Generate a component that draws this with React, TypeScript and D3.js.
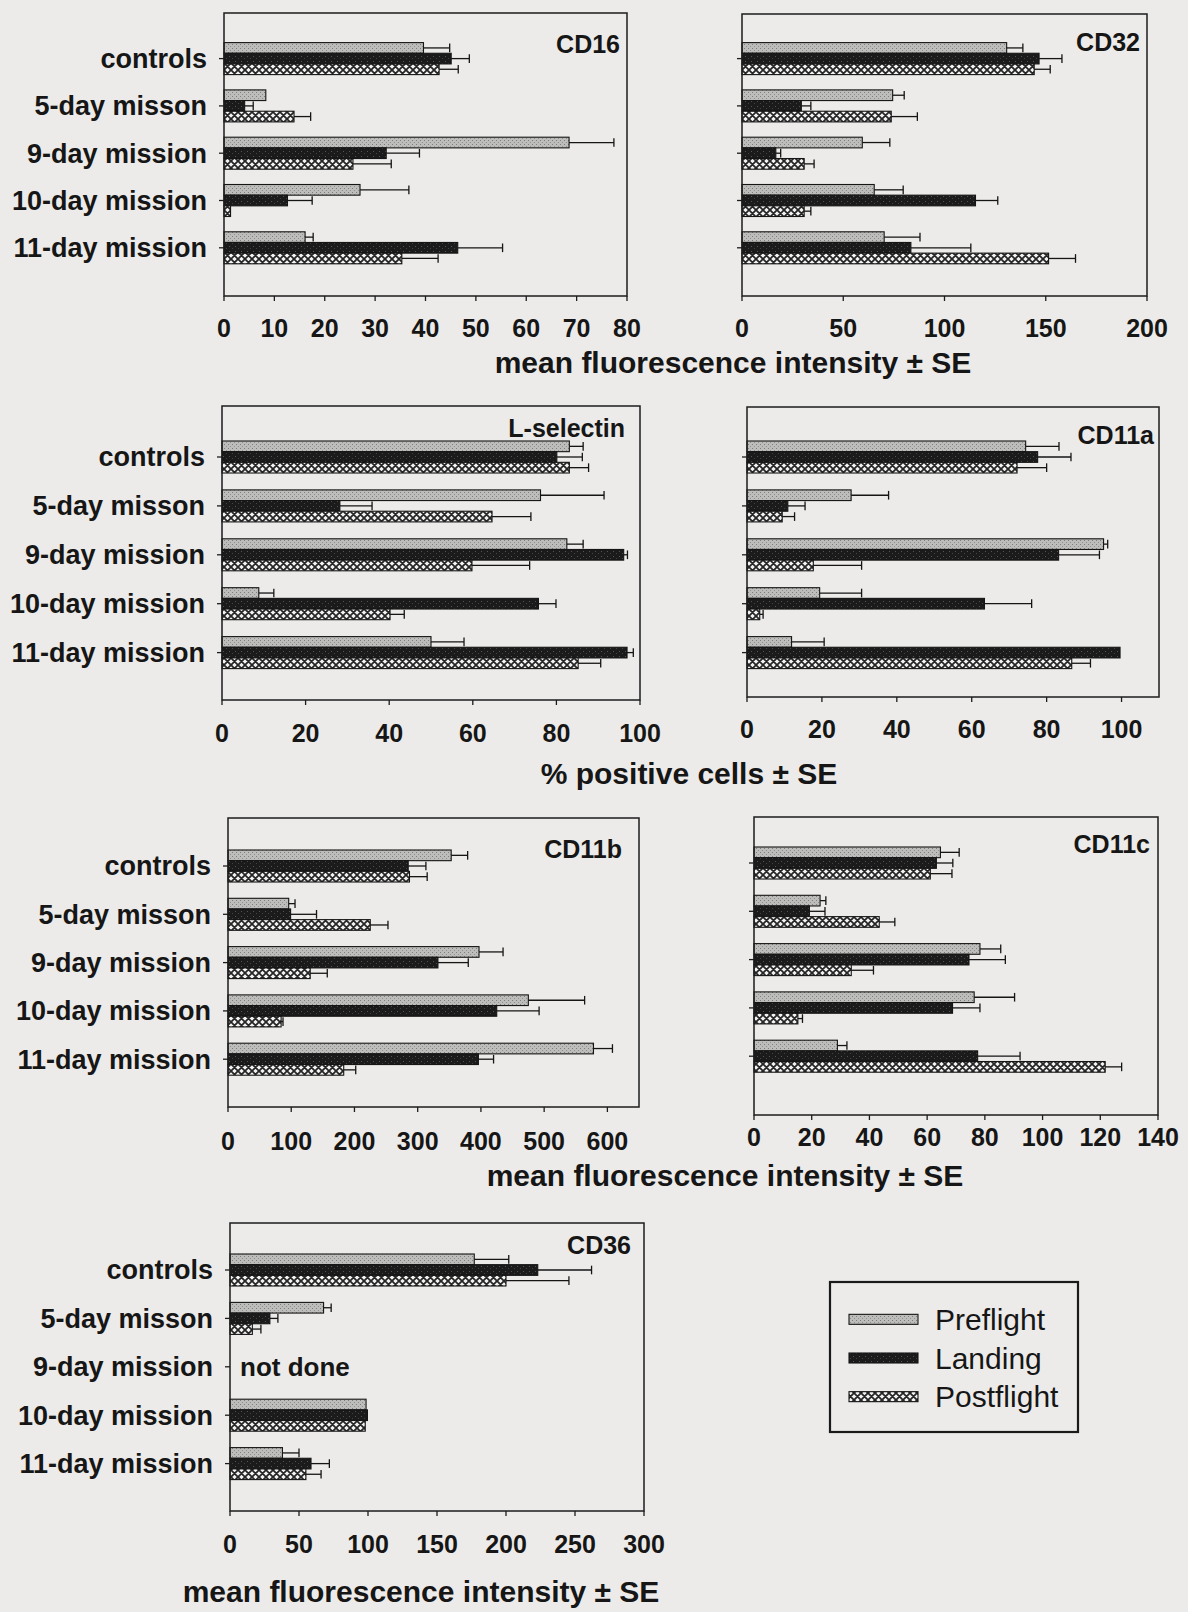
import { scaleLinear, scaleBand } from "d3";

const categories = ["controls", "5-day misson", "9-day mission", "10-day mission", "11-day mission"];
const seriesNames = ["Preflight", "Landing", "Postflight"];

// values: rows = Preflight, Landing, Postflight
const cd16Mean = [
  [39.6, 8.3, 68.5, 27.0, 16.1],
  [45.1, 4.1, 32.2, 12.6, 46.4],
  [42.7, 13.9, 25.6, 1.3, 35.3],
];
const cd16Err = [
  [5.2, 0, 8.9, 9.7, 1.6],
  [3.6, 1.7, 6.6, 4.9, 8.9],
  [3.8, 3.3, 7.6, 0, 7.2],
];
const cd32Mean = [
  [130.7, 74.4, 59.4, 65.3, 70.2],
  [146.7, 29.3, 16.7, 115.3, 83.4],
  [144.3, 73.7, 30.7, 30.7, 151.4],
];
const cd32Err = [
  [8.0, 5.7, 13.6, 14.3, 17.7],
  [11.3, 4.7, 2.4, 11.0, 29.6],
  [7.9, 12.9, 4.9, 3.3, 13.3],
];
const lselMean = [
  [83.1, 76.2, 82.5, 8.8, 50.0],
  [80.1, 28.2, 96.1, 75.7, 96.9],
  [83.1, 64.6, 59.8, 40.2, 85.2],
];
const lselErr = [
  [3.3, 15.2, 3.9, 3.6, 7.9],
  [6.1, 7.7, 0.9, 4.2, 1.5],
  [4.6, 9.3, 13.8, 3.4, 5.4],
];
const cd11aMean = [
  [74.4, 27.8, 95.2, 19.4, 11.9],
  [77.6, 10.9, 83.2, 63.4, 99.6],
  [72.1, 9.4, 17.7, 3.4, 86.7],
];
const cd11aErr = [
  [8.9, 10.0, 1.1, 11.2, 8.7],
  [8.9, 4.6, 10.9, 12.6, 0],
  [7.9, 3.3, 12.9, 0.9, 5.0],
];
const cd11bMean = [
  [353, 96, 397, 475, 578],
  [285, 99, 332, 425, 396],
  [287, 225, 130, 84, 183],
];
const cd11bErr = [
  [26, 10, 38, 89, 30],
  [28, 41, 48, 67, 24],
  [28, 28, 27, 3, 19],
];
const cd11cMean = [
  [64.6, 22.9, 78.3, 76.3, 28.9],
  [63.2, 19.2, 74.5, 68.8, 77.5],
  [61.1, 43.4, 33.7, 15.2, 121.7],
];
const cd11cErr = [
  [6.5, 2.0, 7.2, 14.0, 3.3],
  [5.7, 5.4, 12.6, 9.5, 14.7],
  [7.5, 5.4, 7.7, 1.6, 5.7],
];
// 9-day mission not done for CD36
const cd36Mean = [
  [177, 67.8, null, 98.6, 38],
  [223, 28.9, null, 99.6, 58.7],
  [200, 16.2, null, 98, 55],
];
const cd36Err = [
  [25, 5.5, null, 0, 12],
  [39, 5.8, null, 0, 13.3],
  [45.6, 6.2, null, 0, 11],
];

const ticks80 = [0, 10, 20, 30, 40, 50, 60, 70, 80];
const ticks200 = [0, 50, 100, 150, 200];
const ticks100 = [0, 20, 40, 60, 80, 100];
const ticks600 = [0, 100, 200, 300, 400, 500, 600];
const ticks140 = [0, 20, 40, 60, 80, 100, 120, 140];
const ticks300 = [0, 50, 100, 150, 200, 250, 300];

const patterns = ["url(#pat-pre)", "url(#pat-land)", "url(#pat-post)"];
const FONT = "'Liberation Sans', Arial, sans-serif";
const BG = "#ecebe9";

type PanelDef = {
  name: string;
  mean: (number | null)[][];
  err: (number | null)[][];
  ticks: number[];
  max: number;
  left: number;
  right: number;
  top: number;
  bottom: number;
  first: number;
  step: number;
  tickY: number;
  labelDy: number;
  labelDx: number;
  showCats: boolean;
  notDone?: boolean;
};

const panels: PanelDef[] = [
  { name: "CD16", mean: cd16Mean, err: cd16Err, ticks: ticks80, max: 80, left: 224, right: 627, top: 13, bottom: 296, first: 58.6, step: 47.3, tickY: 328, labelDy: 40, labelDx: 7, showCats: true },
  { name: "CD32", mean: cd32Mean, err: cd32Err, ticks: ticks200, max: 200, left: 742, right: 1147, top: 14, bottom: 296, first: 58.6, step: 47.3, tickY: 328, labelDy: 37, labelDx: 7, showCats: false },
  { name: "L-selectin", mean: lselMean, err: lselErr, ticks: ticks100, max: 100, left: 222, right: 640, top: 406, bottom: 700, first: 457, step: 48.9, tickY: 733, labelDy: 31, labelDx: 15, showCats: true },
  { name: "CD11a", mean: cd11aMean, err: cd11aErr, ticks: ticks100, max: 110, left: 747, right: 1159, top: 407, bottom: 697, first: 457, step: 48.9, tickY: 729, labelDy: 37, labelDx: 5, showCats: false },
  { name: "CD11b", mean: cd11bMean, err: cd11bErr, ticks: ticks600, max: 650, left: 228, right: 639, top: 818, bottom: 1107, first: 866, step: 48.3, tickY: 1141, labelDy: 40, labelDx: 17, showCats: true },
  { name: "CD11c", mean: cd11cMean, err: cd11cErr, ticks: ticks140, max: 140, left: 754, right: 1158, top: 817, bottom: 1115, first: 863, step: 48.3, tickY: 1137, labelDy: 36, labelDx: 8, showCats: false },
  { name: "CD36", mean: cd36Mean, err: cd36Err, ticks: ticks300, max: 300, left: 230, right: 644, top: 1223, bottom: 1511, first: 1270, step: 48.4, tickY: 1544, labelDy: 31, labelDx: 13, showCats: true, notDone: true },
];

const axisTitles = [
  { text: "mean fluorescence intensity \u00b1 SE", x: 733, y: 362 },
  { text: "% positive cells \u00b1 SE", x: 689, y: 773 },
  { text: "mean fluorescence intensity \u00b1 SE", x: 725, y: 1175 },
  { text: "mean fluorescence intensity \u00b1 SE", x: 421, y: 1591 },
];

const Panel = ({ p }: { p: PanelDef }) => {
  const x = scaleLinear().domain([0, p.max]).range([p.left, p.right]);
  const y = scaleBand<string>()
    .domain(categories)
    .range([p.first - p.step / 2, p.first - p.step / 2 + p.step * categories.length]);
  const groupH = 32;
  const s = scaleBand<string>().domain(seriesNames).range([-groupH / 2, groupH / 2]);
  const barH = s.bandwidth();
  const cy = (c: string) => (y(c) as number) + y.bandwidth() / 2;

  return (
    <g>
      {/* bars */}
      {seriesNames.map((sn, si) =>
        categories.map((c, ci) => {
          const v = p.mean[si][ci];
          if (v == null) return null;
          const e = p.err[si][ci] ?? 0;
          const by = cy(c) + (s(sn) as number);
          const ey = by + barH / 2;
          return (
            <g key={sn + c}>
              <rect
                x={x(0)}
                y={by}
                width={x(v) - x(0)}
                height={barH}
                fill={patterns[si]}
                stroke="#151515"
                strokeWidth={1.1}
              />
              {e > 0 && (
                <g stroke="#151515" strokeWidth={1.3}>
                  <line x1={x(v)} x2={x(v + e)} y1={ey} y2={ey} />
                  <line x1={x(v + e)} x2={x(v + e)} y1={by + 1} y2={by + barH - 1} />
                </g>
              )}
            </g>
          );
        })
      )}
      {/* frame */}
      <rect
        x={p.left}
        y={p.top}
        width={p.right - p.left}
        height={p.bottom - p.top}
        fill="none"
        stroke="#1c1c1c"
        strokeWidth={1.5}
      />
      {/* category ticks */}
      {categories.map((c) => (
        <line key={c} x1={p.left - 5} x2={p.left} y1={cy(c)} y2={cy(c)} stroke="#1c1c1c" strokeWidth={1.3} />
      ))}
      {p.showCats &&
        categories.map((c) => (
          <text
            key={c}
            x={p.left - 17}
            y={cy(c)}
            dy="0.35em"
            textAnchor="end"
            fontFamily={FONT}
            fontWeight="bold"
            fontSize={27}
            fill="#161616"
          >
            {c}
          </text>
        ))}
      {/* value axis */}
      {p.ticks.map((t) => (
        <g key={t}>
          <line x1={x(t)} x2={x(t)} y1={p.bottom} y2={p.bottom + 5} stroke="#1c1c1c" strokeWidth={1.3} />
          <text
            x={x(t)}
            y={p.tickY}
            dy="0.35em"
            textAnchor="middle"
            fontFamily={FONT}
            fontWeight="bold"
            fontSize={25}
            fill="#161616"
          >
            {t}
          </text>
        </g>
      ))}
      <text
        x={p.right - p.labelDx}
        y={p.top + p.labelDy}
        textAnchor="end"
        fontFamily={FONT}
        fontWeight="bold"
        fontSize={25}
        fill="#161616"
      >
        {p.name}
      </text>
      {p.notDone && (
        <text
          x={p.left + 10}
          y={cy(categories[2])}
          dy="0.35em"
          fontFamily={FONT}
          fontWeight="bold"
          fontSize={26}
          fill="#161616"
        >
          not done
        </text>
      )}
    </g>
  );
};

const Legend = () => {
  const ly = scaleBand<string>().domain(seriesNames).range([1300, 1416]);
  return (
    <g>
      <rect x={830} y={1282} width={248} height={150} fill="none" stroke="#1a1a1a" strokeWidth={2.2} />
      {seriesNames.map((sn, i) => {
        const c = (ly(sn) as number) + ly.bandwidth() / 2;
        return (
          <g key={sn}>
            <rect x={849} y={c - 5} width={69} height={10} fill={patterns[i]} stroke="#151515" strokeWidth={1.1} />
            <text x={935} y={c} dy="0.35em" fontFamily={FONT} fontSize={30} fill="#161616">
              {sn}
            </text>
          </g>
        );
      })}
    </g>
  );
};

export default function App() {
  return (
    <svg
      width={1188}
      height={1612}
      style={{ position: "absolute", left: 0, top: 0, background: BG }}
    >
      <defs>
        <pattern id="pat-pre" patternUnits="userSpaceOnUse" width={4} height={4}>
          <rect width={4} height={4} fill="#bdbdbb" />
          <rect x={0} y={0} width={1} height={1} fill="#7d7d7d" />
          <rect x={2} y={2} width={1} height={1} fill="#8f8f8f" />
        </pattern>
        <pattern id="pat-land" patternUnits="userSpaceOnUse" width={6} height={5}>
          <rect width={6} height={5} fill="#1b1b1b" />
          <rect x={1} y={1} width={1} height={1} fill="#555" />
          <rect x={4} y={3} width={1} height={1} fill="#444" />
        </pattern>
        <pattern id="pat-post" patternUnits="userSpaceOnUse" width={7} height={7}>
          <rect width={7} height={7} fill="#f4f4f2" />
          <path d="M0,0 L7,7 M7,0 L0,7 M-1,6 L1,8 M6,-1 L8,1 M-1,1 L1,-1 M6,8 L8,6" stroke="#262626" strokeWidth={1.8} />
        </pattern>
      </defs>
      <rect width={1188} height={1612} fill={BG} />
      {panels.map((p) => (
        <Panel key={p.name} p={p} />
      ))}
      {axisTitles.map((t, i) => (
        <text
          key={i}
          x={t.x}
          y={t.y}
          dy="0.35em"
          textAnchor="middle"
          fontFamily={FONT}
          fontWeight="bold"
          fontSize={30}
          fill="#161616"
        >
          {t.text}
        </text>
      ))}
      <Legend />
    </svg>
  );
}
